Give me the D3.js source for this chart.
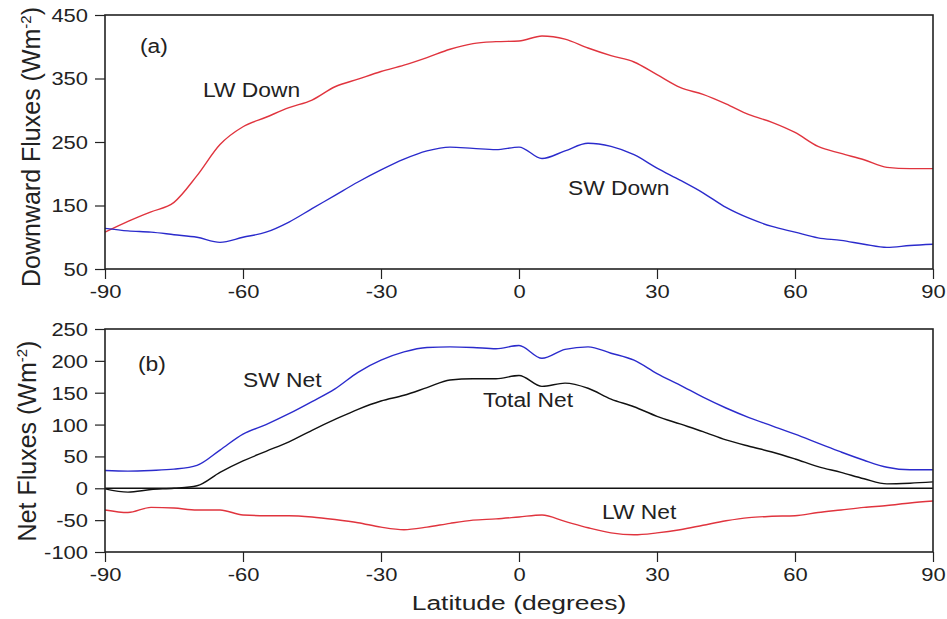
<!DOCTYPE html>
<html>
<head>
<meta charset="utf-8">
<script src="https://cdn.jsdelivr.net/npm/d3@7"></script>
<style>
  body { margin: 0; background: #fff; }
  text { font-family: "Liberation Sans", Arial, sans-serif; fill: #222; }
</style>
</head>
<body>
<svg id="chart" width="947" height="619"></svg>
<script>
// Latitude grid (degrees)
const lat = [-90, -85, -80, -75, -70, -65, -60, -55, -50, -45, -40, -35, -30, -25, -20, -15, -10, -5,
  0, 5, 10, 15, 20, 25, 30, 35, 40, 45, 50, 55, 60, 65, 70, 75, 80, 85, 90];

// Panel (a): downward fluxes, W m-2
const lwDown = [108, 125, 140, 155, 197, 246, 274, 289, 304, 316, 337, 349, 361, 371, 383, 396, 405, 408,
  409, 417, 412, 398, 386, 376, 356, 336, 325, 310, 293, 281, 265, 243, 232, 222, 210, 208, 208];
const swDown = [114, 110, 108, 104, 100, 92, 100, 108, 124, 145, 166, 187, 206, 223, 236, 242, 240, 238,
  242, 224, 236, 248, 243, 230, 209, 190, 170, 147, 130, 117, 108, 99, 95, 89, 84, 87, 89];

// Panel (b): net fluxes, W m-2
const swNet = [28, 27, 28, 30, 36, 60, 85, 100, 117, 136, 156, 182, 201, 214, 221, 222, 221, 219,
  224, 204, 218, 222, 212, 201, 180, 162, 143, 126, 111, 98, 85, 71, 57, 44, 33, 29, 29];
const totalNet = [-1, -6, -2, 0, 4, 25, 43, 58, 73, 91, 108, 124, 137, 146, 158, 170, 172, 172,
  177, 160, 165, 157, 140, 128, 113, 101, 89, 76, 66, 57, 46, 34, 25, 15, 7, 8, 10];
const lwNet = [-34, -38, -30, -31, -34, -34, -42, -43, -43, -45, -49, -54, -61, -65, -61, -55, -50, -48,
  -45, -42, -52, -62, -70, -73, -70, -65, -58, -51, -46, -44, -43, -38, -34, -30, -27, -23, -20];

const xTicks = [-90, -60, -30, 0, 30, 60, 90];
const topTicks = [50, 150, 250, 350, 450];
const botTicks = [-100, -50, 0, 50, 100, 150, 200, 250];

const RED = "#e0343e";
const BLUE = "#2b2bcc";
const BLACK = "#111";

const svg = d3.select("#chart");
const x = d3.scaleLinear().domain([-90, 90]).range([105, 933]);
const yTop = d3.scaleLinear().domain([50, 450]).range([269, 15]);
const yBot = d3.scaleLinear().domain([-100, 250]).range([552, 329]);

// horizontal stretch used by the original lettering
const TICK_SX = 1.22;
const NOTE_SX = 1.17;

function panel(y, ticks, series, notes) {
  const [y0, y1] = y.range();

  svg.append("g")
      .attr("transform", `translate(0,${y0})`)
      .call(d3.axisBottom(x).tickValues(xTicks).tickSize(10).tickFormat(d => String(d)))
      .call(g => g.select(".domain").remove())
      .call(g => g.selectAll("line").attr("stroke", "#222").attr("stroke-width", 1.2))
      .call(g => g.selectAll("text")
          .attr("y", 29).attr("dy", 0)
          .attr("font-size", 18)
          .attr("transform", `scale(${TICK_SX},1)`));

  svg.append("g")
      .attr("transform", "translate(105,0)")
      .call(d3.axisLeft(y).tickValues(ticks).tickSize(10).tickFormat(d => String(d)))
      .call(g => g.select(".domain").remove())
      .call(g => g.selectAll("line").attr("stroke", "#222").attr("stroke-width", 1.2))
      .call(g => g.selectAll("text")
          .attr("x", -17 / TICK_SX).attr("dy", "0.36em")
          .attr("font-size", 18)
          .attr("transform", `scale(${TICK_SX},1)`));

  const line = d3.line()
      .x((d, i) => x(lat[i]))
      .y(d => y(d))
      .curve(d3.curveMonotoneX);

  series.forEach(s => {
    svg.append("path")
        .datum(s.values)
        .attr("fill", "none")
        .attr("stroke", s.color)
        .attr("stroke-width", 1.4)
        .attr("stroke-linejoin", "round")
        .attr("d", line);
  });

  notes.forEach(n => {
    svg.append("text")
        .attr("transform", `translate(${n.x},${n.y}) scale(${NOTE_SX},1)`)
        .attr("font-size", 19.5)
        .text(n.text);
  });

  // frame
  svg.append("rect")
      .attr("x", 105).attr("y", y1)
      .attr("width", 828).attr("height", y0 - y1)
      .attr("fill", "none")
      .attr("stroke", "#222")
      .attr("stroke-width", 1.6);
}

panel(yTop, topTicks,
  [{ values: lwDown, color: RED }, { values: swDown, color: BLUE }],
  [{ text: "(a)", x: 140, y: 53 },
   { text: "LW Down", x: 203, y: 97 },
   { text: "SW Down", x: 568, y: 195 }]);

// zero line in the net panel
svg.append("line")
    .attr("x1", 105).attr("x2", 933)
    .attr("y1", yBot(0)).attr("y2", yBot(0))
    .attr("stroke", "#111")
    .attr("stroke-width", 1.5);

panel(yBot, botTicks,
  [{ values: swNet, color: BLUE }, { values: totalNet, color: BLACK }, { values: lwNet, color: RED }],
  [{ text: "(b)", x: 138, y: 371 },
   { text: "SW Net", x: 243, y: 387 },
   { text: "Total Net", x: 483, y: 407 },
   { text: "LW Net", x: 602, y: 519 }]);

// axis titles
function yTitle(label, cx, cy) {
  const t = svg.append("text")
      .attr("transform", `translate(${cx},${cy}) rotate(-90)`)
      .attr("text-anchor", "middle")
      .attr("font-size", 25);
  t.append("tspan").text(label + " (Wm");
  t.append("tspan").attr("dy", -9).attr("font-size", 15).text("-2");
  t.append("tspan").attr("dy", 9).text(")");
}
yTitle("Downward Fluxes", 40, 147);
yTitle("Net Fluxes", 36, 441);

svg.append("text")
    .attr("transform", "translate(519,610) scale(1.26,1)")
    .attr("text-anchor", "middle")
    .attr("font-size", 21)
    .text("Latitude (degrees)");
</script>
</body>
</html>
